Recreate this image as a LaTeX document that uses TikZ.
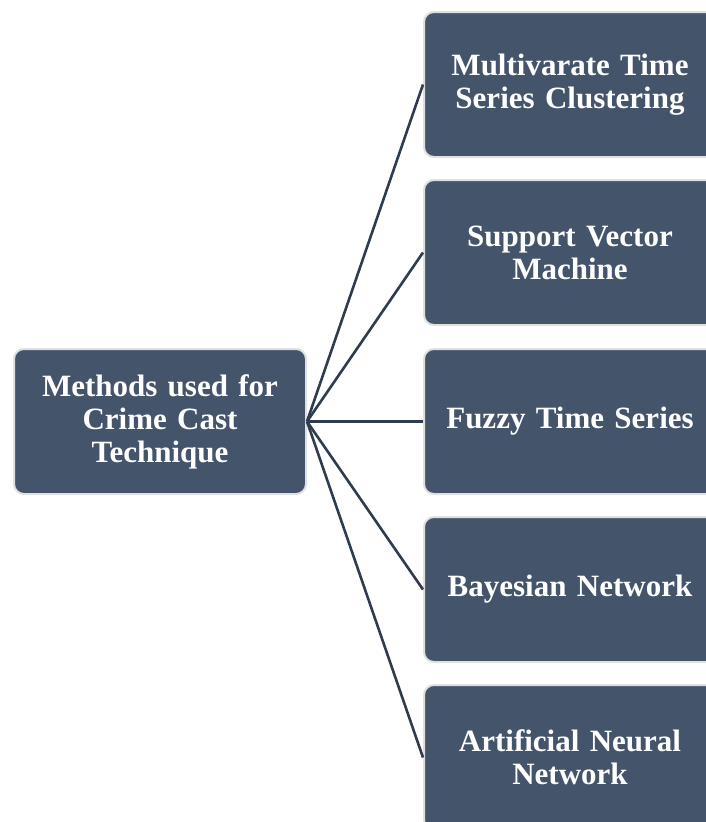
\documentclass[tikz,border=0pt]{standalone}
\usepackage{fontspec}
\setmainfont{Liberation Serif}
\definecolor{boxfill}{HTML}{44546A}
\definecolor{boxrim}{HTML}{E0E0E0}
\definecolor{linkcol}{HTML}{2F3C4E}
\begin{document}
\begin{tikzpicture}[x=1pt,y=1pt,
  methodbox/.style={rectangle, rounded corners=10pt, fill=boxfill, draw=boxrim, line width=2pt,
    minimum width=292pt, minimum height=145pt, inner sep=0pt, text width=285pt, align=center,
    text=white, font=\bfseries\fontsize{31}{33}\selectfont},
  link/.style={draw=linkcol, line width=2.6pt}]
\useasboundingbox (0,0) rectangle (705,-822);
\node[methodbox] (root) at (160,-421.5) {Methods used for\\Crime Cast\\Technique};
\node[methodbox] (m1) at (570,-84.5) {Multivarate Time\\Series Clustering};
\node[methodbox] (m2) at (570,-252.5) {Support Vector\\Machine};
\node[methodbox] (m3) at (570,-421.5) {Fuzzy Time Series};
\node[methodbox] (m4) at (570,-589.5) {Bayesian Network};
\node[methodbox] (m5) at (570,-757.5) {Artificial Neural\\Network};
\foreach \n in {m1,m2,m3,m4,m5}
  \draw[link] (root.east) -- (\n.west);
\end{tikzpicture}
\end{document}
